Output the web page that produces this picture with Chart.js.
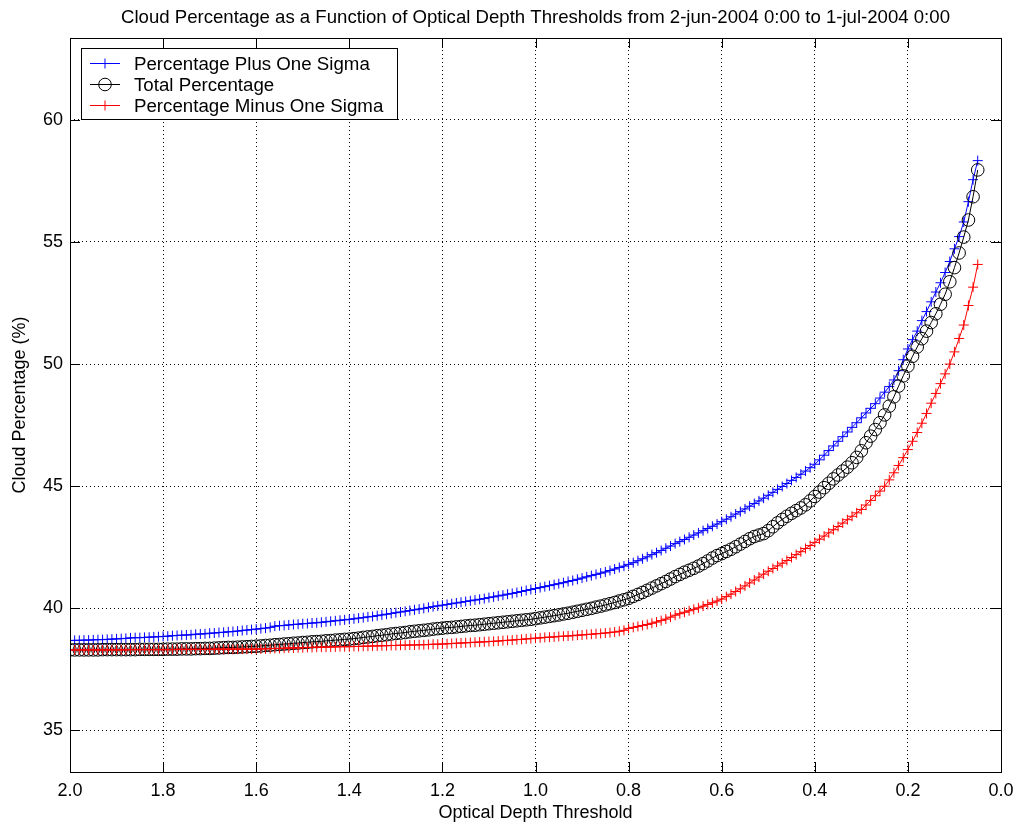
<!DOCTYPE html>
<html>
<head>
<meta charset="utf-8">
<script src="https://cdn.jsdelivr.net/npm/chart.js@4/dist/chart.umd.min.js"></script>
<style>
  html, body { margin: 0; padding: 0; background: #fff; }
  #wrap { width: 1014px; height: 825px; }
</style>
</head>
<body>
<div id="wrap"><canvas id="cloudChart" width="1014" height="825"></canvas></div>
<script>
// Optical depth thresholds (x), from 2.00 down to 0.05
const thresholds = [
  2.00, 1.99, 1.98, 1.97, 1.96, 1.95, 1.94, 1.93, 1.92, 1.91,
  1.90, 1.89, 1.88, 1.87, 1.86, 1.85, 1.84, 1.83, 1.82, 1.81,
  1.80, 1.79, 1.78, 1.77, 1.76, 1.75, 1.74, 1.73, 1.72, 1.71,
  1.70, 1.69, 1.68, 1.67, 1.66, 1.65, 1.64, 1.63, 1.62, 1.61,
  1.60, 1.59, 1.58, 1.57, 1.56, 1.55, 1.54, 1.53, 1.52, 1.51,
  1.50, 1.49, 1.48, 1.47, 1.46, 1.45, 1.44, 1.43, 1.42, 1.41,
  1.40, 1.39, 1.38, 1.37, 1.36, 1.35, 1.34, 1.33, 1.32, 1.31,
  1.30, 1.29, 1.28, 1.27, 1.26, 1.25, 1.24, 1.23, 1.22, 1.21,
  1.20, 1.19, 1.18, 1.17, 1.16, 1.15, 1.14, 1.13, 1.12, 1.11,
  1.10, 1.09, 1.08, 1.07, 1.06, 1.05, 1.04, 1.03, 1.02, 1.01,
  1.00, 0.99, 0.98, 0.97, 0.96, 0.95, 0.94, 0.93, 0.92, 0.91,
  0.90, 0.89, 0.88, 0.87, 0.86, 0.85, 0.84, 0.83, 0.82, 0.81,
  0.80, 0.79, 0.78, 0.77, 0.76, 0.75, 0.74, 0.73, 0.72, 0.71,
  0.70, 0.69, 0.68, 0.67, 0.66, 0.65, 0.64, 0.63, 0.62, 0.61,
  0.60, 0.59, 0.58, 0.57, 0.56, 0.55, 0.54, 0.53, 0.52, 0.51,
  0.50, 0.49, 0.48, 0.47, 0.46, 0.45, 0.44, 0.43, 0.42, 0.41,
  0.40, 0.39, 0.38, 0.37, 0.36, 0.35, 0.34, 0.33, 0.32, 0.31,
  0.30, 0.29, 0.28, 0.27, 0.26, 0.25, 0.24, 0.23, 0.22, 0.21,
  0.20, 0.19, 0.18, 0.17, 0.16, 0.15, 0.14, 0.13, 0.12, 0.11,
  0.10, 0.09, 0.08, 0.07, 0.06, 0.05
];

// Cloud percentage plus one sigma (%)
const plusSigma = [
  38.68, 38.69, 38.69, 38.70, 38.70, 38.71, 38.72, 38.72, 38.73, 38.74,
  38.75, 38.76, 38.77, 38.79, 38.80, 38.80, 38.81, 38.82, 38.83, 38.84,
  38.85, 38.86, 38.88, 38.89, 38.90, 38.91, 38.92, 38.94, 38.95, 38.96,
  38.98, 38.99, 39.01, 39.02, 39.04, 39.05, 39.07, 39.09, 39.11, 39.13,
  39.15, 39.17, 39.19, 39.22, 39.27, 39.29, 39.30, 39.32, 39.34, 39.35,
  39.37, 39.38, 39.40, 39.41, 39.43, 39.45, 39.47, 39.49, 39.51, 39.53,
  39.55, 39.57, 39.60, 39.62, 39.65, 39.67, 39.70, 39.73, 39.76, 39.79,
  39.82, 39.85, 39.88, 39.91, 39.94, 39.97, 40.00, 40.04, 40.07, 40.10,
  40.13, 40.16, 40.19, 40.22, 40.25, 40.28, 40.31, 40.34, 40.37, 40.40,
  40.44, 40.47, 40.51, 40.54, 40.58, 40.61, 40.65, 40.69, 40.73, 40.77,
  40.81, 40.85, 40.89, 40.93, 40.97, 41.01, 41.05, 41.10, 41.14, 41.19,
  41.24, 41.29, 41.34, 41.39, 41.44, 41.49, 41.55, 41.61, 41.67, 41.73,
  41.80, 41.87, 41.95, 42.03, 42.11, 42.20, 42.28, 42.37, 42.46, 42.55,
  42.65, 42.73, 42.82, 42.91, 43.00, 43.09, 43.18, 43.27, 43.36, 43.45,
  43.55, 43.65, 43.75, 43.86, 43.96, 44.07, 44.18, 44.29, 44.40, 44.51,
  44.63, 44.75, 44.87, 44.99, 45.11, 45.24, 45.36, 45.49, 45.62, 45.76,
  45.90, 46.08, 46.27, 46.46, 46.65, 46.84, 47.03, 47.22, 47.41, 47.60,
  47.80, 48.00, 48.19, 48.38, 48.61, 48.85, 49.08, 49.35, 49.73, 50.18,
  50.62, 51.00, 51.35, 51.78, 52.15, 52.55, 52.95, 53.33, 53.75, 54.20,
  54.72, 55.22, 55.82, 56.65, 57.55, 58.33
];

// Total cloud percentage (%)
const totalPct = [
  38.30, 38.30, 38.30, 38.30, 38.30, 38.30, 38.30, 38.31, 38.31, 38.31,
  38.31, 38.31, 38.31, 38.31, 38.31, 38.32, 38.32, 38.32, 38.32, 38.32,
  38.32, 38.33, 38.33, 38.33, 38.34, 38.34, 38.34, 38.35, 38.35, 38.36,
  38.36, 38.37, 38.38, 38.39, 38.40, 38.40, 38.41, 38.42, 38.43, 38.44,
  38.45, 38.46, 38.48, 38.49, 38.51, 38.52, 38.54, 38.55, 38.57, 38.58,
  38.60, 38.61, 38.63, 38.64, 38.65, 38.67, 38.68, 38.70, 38.71, 38.73,
  38.74, 38.76, 38.78, 38.81, 38.83, 38.85, 38.88, 38.90, 38.92, 38.95,
  38.97, 38.99, 39.01, 39.04, 39.06, 39.08, 39.10, 39.12, 39.15, 39.17,
  39.19, 39.21, 39.22, 39.24, 39.26, 39.28, 39.30, 39.31, 39.33, 39.35,
  39.37, 39.39, 39.41, 39.43, 39.45, 39.47, 39.49, 39.51, 39.53, 39.55,
  39.58, 39.61, 39.64, 39.67, 39.70, 39.73, 39.77, 39.80, 39.84, 39.88,
  39.92, 39.96, 40.00, 40.05, 40.09, 40.14, 40.19, 40.24, 40.30, 40.35,
  40.41, 40.49, 40.57, 40.65, 40.74, 40.83, 40.92, 41.01, 41.10, 41.20,
  41.30, 41.39, 41.48, 41.56, 41.64, 41.73, 41.83, 41.94, 42.06, 42.16,
  42.24, 42.33, 42.42, 42.52, 42.63, 42.74, 42.85, 42.94, 43.00, 43.06,
  43.18, 43.34, 43.50, 43.64, 43.77, 43.89, 44.00, 44.11, 44.24, 44.40,
  44.58, 44.76, 44.94, 45.12, 45.30, 45.46, 45.62, 45.78, 45.96, 46.18,
  46.45, 46.78, 47.05, 47.32, 47.60, 47.92, 48.28, 48.66, 49.10, 49.52,
  49.92, 50.32, 50.70, 51.04, 51.35, 51.70, 52.06, 52.45, 52.86, 53.37,
  53.95, 54.55, 55.20, 55.90, 56.85, 57.95
];

// Cloud percentage minus one sigma (%)
const minusSigma = [
  38.30, 38.30, 38.30, 38.30, 38.30, 38.30, 38.30, 38.30, 38.30, 38.30,
  38.30, 38.30, 38.30, 38.31, 38.31, 38.31, 38.31, 38.31, 38.31, 38.31,
  38.31, 38.31, 38.31, 38.32, 38.32, 38.32, 38.32, 38.32, 38.32, 38.32,
  38.32, 38.33, 38.33, 38.33, 38.33, 38.33, 38.33, 38.33, 38.33, 38.33,
  38.33, 38.34, 38.34, 38.35, 38.36, 38.36, 38.37, 38.38, 38.38, 38.39,
  38.39, 38.40, 38.40, 38.41, 38.41, 38.41, 38.42, 38.42, 38.43, 38.43,
  38.43, 38.44, 38.44, 38.45, 38.45, 38.46, 38.46, 38.47, 38.47, 38.48,
  38.48, 38.49, 38.49, 38.50, 38.50, 38.51, 38.51, 38.52, 38.53, 38.53,
  38.54, 38.55, 38.56, 38.57, 38.58, 38.59, 38.60, 38.61, 38.62, 38.63,
  38.64, 38.65, 38.66, 38.68, 38.69, 38.70, 38.72, 38.73, 38.75, 38.76,
  38.78, 38.79, 38.81, 38.82, 38.83, 38.85, 38.86, 38.87, 38.88, 38.90,
  38.91, 38.93, 38.94, 38.96, 38.97, 38.99, 39.01, 39.03, 39.06, 39.10,
  39.18, 39.22, 39.26, 39.30, 39.34, 39.39, 39.44, 39.50, 39.56, 39.64,
  39.72, 39.78, 39.84, 39.90, 39.96, 40.02, 40.09, 40.16, 40.23, 40.30,
  40.38, 40.48, 40.58, 40.69, 40.80, 40.92, 41.04, 41.16, 41.28, 41.40,
  41.52, 41.63, 41.74, 41.85, 41.96, 42.08, 42.20, 42.32, 42.45, 42.57,
  42.70, 42.83, 42.96, 43.09, 43.22, 43.35, 43.49, 43.63, 43.77, 43.91,
  44.05, 44.23, 44.42, 44.61, 44.80, 45.00, 45.26, 45.55, 45.85, 46.17,
  46.50, 46.84, 47.20, 47.58, 47.98, 48.40, 48.80, 49.20, 49.60, 50.00,
  50.50, 51.05, 51.60, 52.40, 53.15, 54.08
];

const seriesNames = ['Percentage Plus One Sigma', 'Total Percentage', 'Percentage Minus One Sigma'];
const xTicks = [2.0, 1.8, 1.6, 1.4, 1.2, 1.0, 0.8, 0.6, 0.4, 0.2, 0.0];
const yTicks = [35, 40, 45, 50, 55, 60];

const FONT = '"Liberation Sans", Arial, Helvetica, sans-serif';

const toPoints = (vals) => thresholds.map((t, i) => ({ x: t, y: vals[i] }));

// Draws the axes box, inward tick marks on all four sides, and the boxed legend
const framePlugin = {
  id: 'frame',
  afterDatasetsDraw(chart) {
    const { ctx, chartArea: a, scales } = chart;
    const L = 10;
    ctx.save();
    ctx.strokeStyle = '#000';
    ctx.lineWidth = 1;
    ctx.setLineDash([]);
    ctx.beginPath();
    xTicks.forEach(v => {
      const px = Math.round(scales.x.getPixelForValue(v)) + 0.5;
      ctx.moveTo(px, a.bottom); ctx.lineTo(px, a.bottom - L);
      ctx.moveTo(px, a.top); ctx.lineTo(px, a.top + L);
    });
    yTicks.forEach(v => {
      const py = Math.round(scales.y.getPixelForValue(v)) + 0.5;
      ctx.moveTo(a.left, py); ctx.lineTo(a.left + L, py);
      ctx.moveTo(a.right, py); ctx.lineTo(a.right - L, py);
    });
    ctx.stroke();
    ctx.strokeRect(Math.round(a.left) + 0.5, Math.round(a.top) + 0.5,
                   Math.round(a.right - a.left), Math.round(a.bottom - a.top));
    ctx.restore();
  },
  afterDraw(chart) {
    const { ctx, chartArea: a } = chart;
    const bx = a.left + 11, by = a.top + 10, bw = 316, bh = 71;
    ctx.save();
    ctx.fillStyle = '#fff';
    ctx.fillRect(bx, by, bw, bh);
    ctx.strokeStyle = '#000';
    ctx.lineWidth = 1;
    ctx.strokeRect(Math.round(bx) + 0.5, Math.round(by) + 0.5, bw, bh);
    ctx.font = '18.7px ' + FONT;
    ctx.textBaseline = 'middle';
    ctx.textAlign = 'left';
    chart.data.datasets.forEach((ds, i) => {
      const cy = Math.round(by + 14.5 + i * 21) + 0.5;
      const x0 = bx + 9, x1 = bx + 39, mx = (x0 + x1) / 2;
      ctx.strokeStyle = ds.borderColor;
      ctx.beginPath();
      ctx.moveTo(x0, cy); ctx.lineTo(x1, cy);
      ctx.stroke();
      ctx.fillStyle = 'rgba(0,0,0,0)';
      Chart.helpers.drawPoint(ctx, {
        pointStyle: ds.pointStyle, radius: ds.pointRadius, rotation: 0, borderWidth: 1
      }, mx, cy);
      ctx.fillStyle = '#000';
      ctx.fillText(ds.label, bx + 53, cy + 1);
    });
    ctx.restore();
  }
};

const common = { borderWidth: 1, pointBorderWidth: 1, tension: 0, fill: false, pointHoverRadius: 0 };

new Chart(document.getElementById('cloudChart'), {
  type: 'line',
  data: {
    datasets: [
      Object.assign({
        label: seriesNames[0], data: toPoints(plusSigma),
        borderColor: '#0000ff', pointBorderColor: '#0000ff', pointBackgroundColor: 'rgba(0,0,0,0)',
        pointStyle: 'cross', pointRadius: 5, order: 2
      }, common),
      Object.assign({
        label: seriesNames[1], data: toPoints(totalPct),
        borderColor: '#000000', pointBorderColor: '#000000', pointBackgroundColor: 'rgba(0,0,0,0)',
        pointStyle: 'circle', pointRadius: 6.3, order: 1
      }, common),
      Object.assign({
        label: seriesNames[2], data: toPoints(minusSigma),
        borderColor: '#ff0000', pointBorderColor: '#ff0000', pointBackgroundColor: 'rgba(0,0,0,0)',
        pointStyle: 'cross', pointRadius: 5, order: 0
      }, common)
    ]
  },
  options: {
    responsive: false,
    animation: false,
    devicePixelRatio: 1,
    layout: { padding: { left: 0, right: 13, top: 0, bottom: 0 } },
    plugins: {
      legend: { display: false },
      tooltip: { enabled: false },
      title: {
        display: true,
        fullSize: false,
        text: 'Cloud Percentage as a Function of Optical Depth Thresholds from 2-jun-2004 0:00 to 1-jul-2004 0:00',
        color: '#000',
        font: { family: FONT, size: 18.6, weight: 'normal', lineHeight: 1.2 },
        padding: { top: 7, bottom: 8.7 }
      }
    },
    scales: {
      x: {
        type: 'linear',
        reverse: true,
        min: 0,
        max: 2,
        afterFit: (s) => { s.height = 53; s.paddingLeft = 0; s.paddingRight = 0; },
        afterBuildTicks: (s) => { s.ticks = xTicks.map(v => ({ value: v })); },
        ticks: {
          callback: (v) => Number(v).toFixed(1),
          color: '#000',
          font: { family: FONT, size: 18 },
          padding: 8,
          maxRotation: 0,
          autoSkip: false
        },
        grid: { color: '#000', lineWidth: 1, drawTicks: false },
        border: { display: false, dash: [1, 3] },
        title: {
          display: true,
          text: 'Optical Depth Threshold',
          color: '#000',
          font: { family: FONT, size: 18, lineHeight: 1.2 },
          padding: { top: 0, bottom: 1 }
        }
      },
      y: {
        type: 'linear',
        min: 33.3,
        max: 63.35,
        afterFit: (s) => { s.width = 70; s.paddingTop = 0; s.paddingBottom = 0; },
        afterBuildTicks: (s) => { s.ticks = yTicks.map(v => ({ value: v })); },
        ticks: {
          color: '#000',
          font: { family: FONT, size: 18 },
          padding: 7
        },
        grid: { color: '#000', lineWidth: 1, drawTicks: false },
        border: { display: false, dash: [1, 3] },
        title: {
          display: true,
          text: 'Cloud Percentage (%)',
          color: '#000',
          font: { family: FONT, size: 18, lineHeight: 1.2 },
          padding: { top: 9, bottom: 0 }
        }
      }
    }
  },
  plugins: [framePlugin]
});
</script>
</body>
</html>
